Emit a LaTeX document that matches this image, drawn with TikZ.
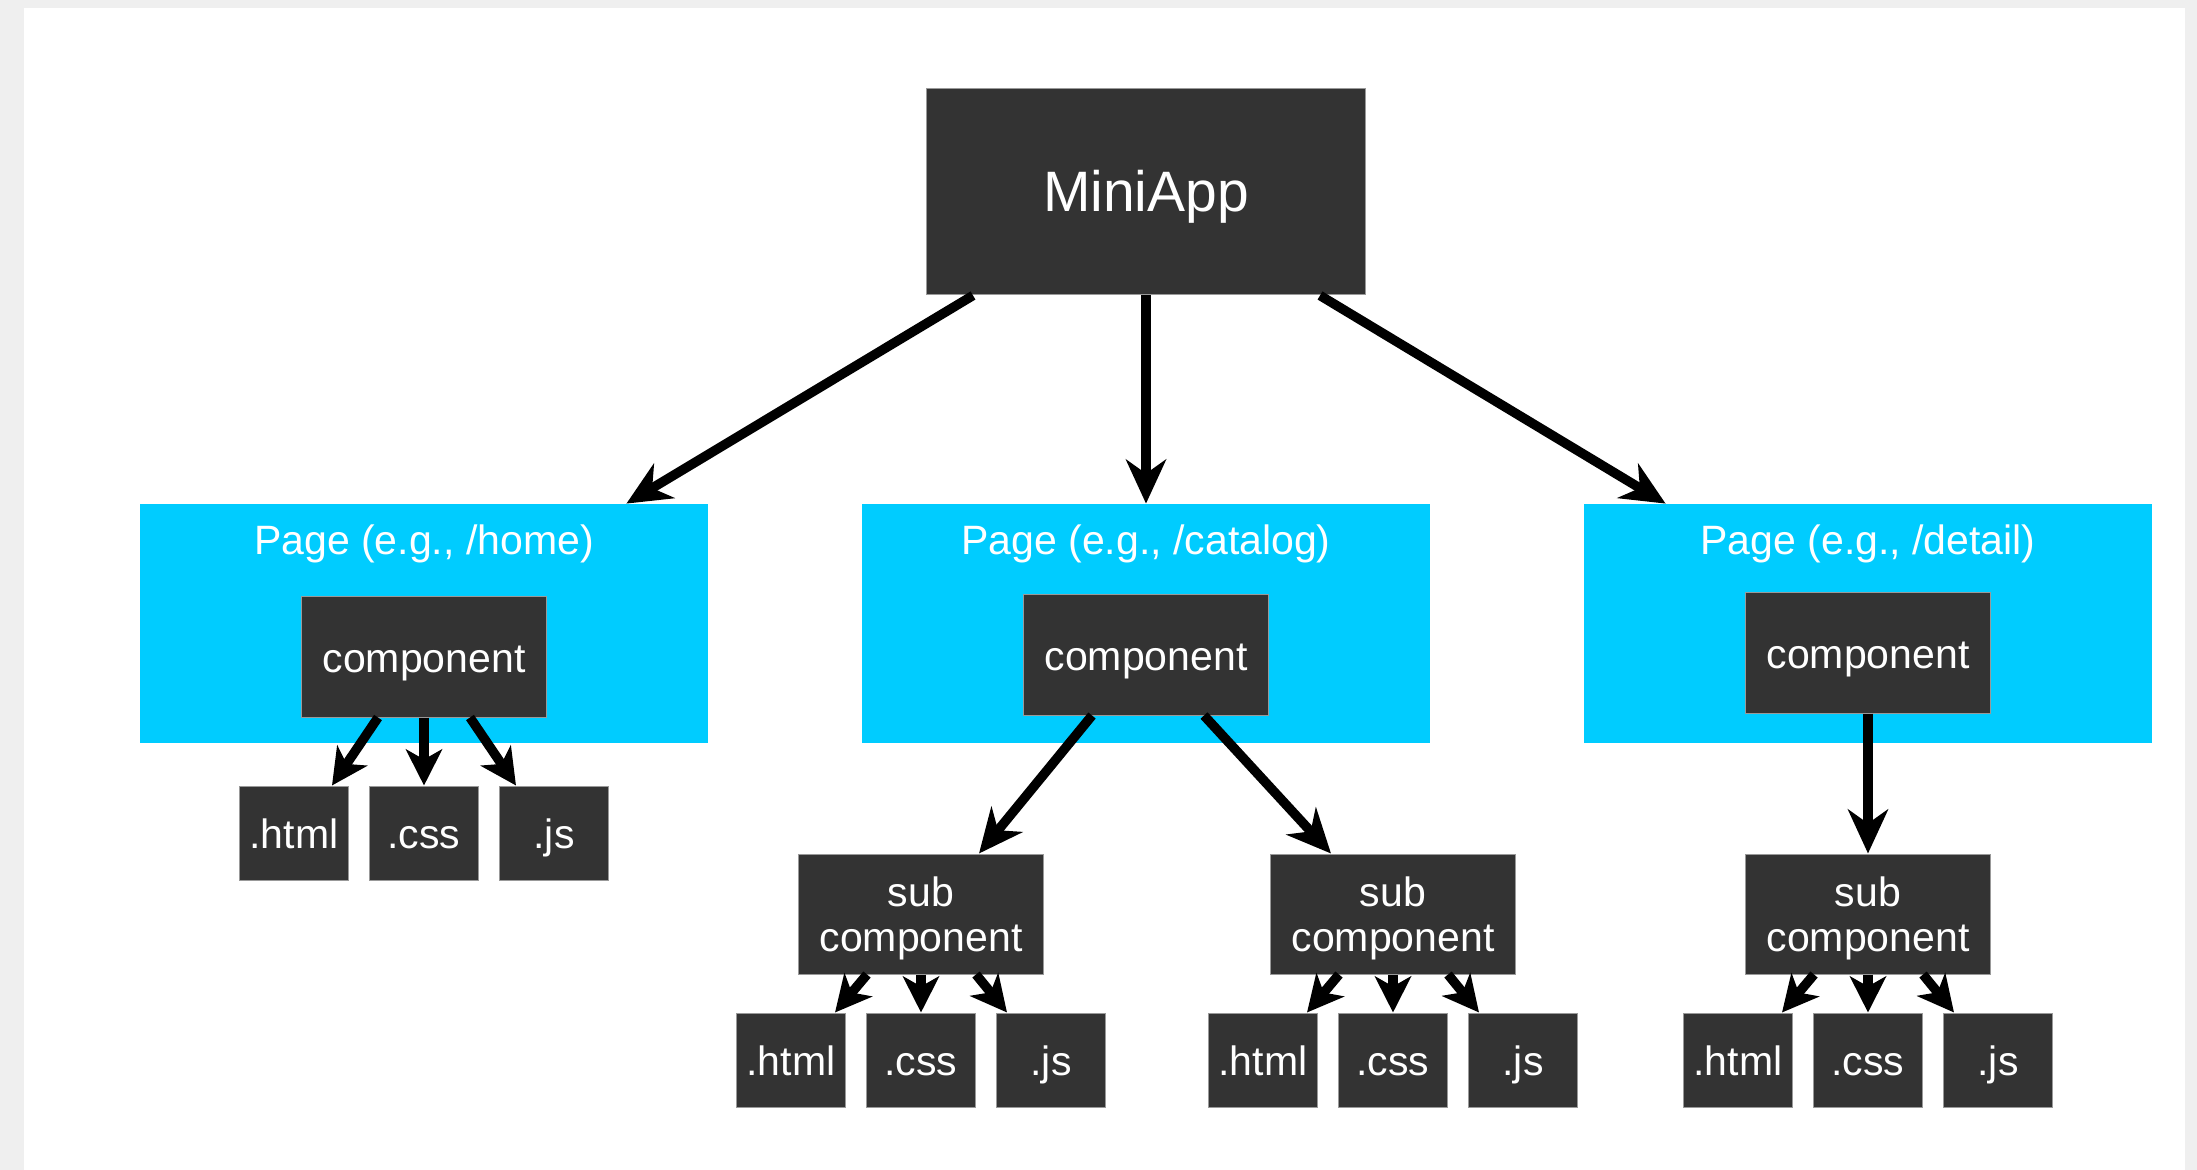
\documentclass[tikz,border=0pt]{standalone}
\usepackage{fontspec}
\setmainfont{Liberation Sans}
\usetikzlibrary{arrows.meta,calc}
\definecolor{bgGray}{HTML}{EFEFEF}
\definecolor{boxDark}{HTML}{333333}
\definecolor{pageBlue}{HTML}{00CCFF}
\newcommand{\subtext}{\raisebox{-8bp}[0pt][0pt]{\begin{tabular}{@{}c@{}}sub\\component\end{tabular}}}
\begin{document}
\begin{tikzpicture}[x=0.5bp,y=-0.5bp,
  darkbox/.style={rectangle, fill=boxDark, draw=black!40, line width=0.5bp, inner sep=0pt,
    text=white, font=\fontsize{20.5bp}{22.5bp}\selectfont, align=center},
  pagebox/.style={rectangle, fill=pageBlue, inner sep=0pt, minimum width=284bp, minimum height=119.5bp},
  pagetitle/.style={text=white, inner sep=0pt, font=\fontsize{20.5bp}{22.5bp}\selectfont},
  leafbox/.style={darkbox, minimum width=54.5bp, minimum height=47bp, text height=17bp, text depth=2bp},
  compbox/.style={darkbox, minimum width=122.5bp, minimum height=60bp, text height=17bp, text depth=2bp},
  subbox/.style={darkbox, minimum width=122.5bp, minimum height=60bp, align=none},
  conn/.style={line width=4.75bp, -{Stealth[length=22bp, width=20bp, inset=7bp]}},
  smallconn/.style={line width=4.75bp, -{Stealth[length=18bp, width=18bp, inset=5bp]}}
]
\useasboundingbox (0,0) rectangle (2197,1170);
\fill[bgGray] (0,0) rectangle (2197,1170);
\fill[white] (24,8) rectangle (2185,1170);

% root
\node[darkbox, minimum width=219.5bp, minimum height=103bp, text height=22bp, text depth=2bp,
  font=\fontsize{28.5bp}{31bp}\selectfont] (mini) at (1146,192) {MiniApp};

% pages
\node[pagebox] (pageL) at (424,623.5) {};
\node[pagebox] (pageM) at (1146,623.5) {};
\node[pagebox] (pageR) at (1868,623.5) {};
\node[pagetitle] (titleL) at (424,544) {Page (e.g., /home)};
\node[pagetitle] (titleM) at (1146,544) {Page (e.g., /catalog)};
\node[pagetitle] (titleR) at (1868,544) {Page (e.g., /detail)};

% components
\node[compbox] (compL) at (424,657) {component};
\node[compbox] (compM) at (1146,655) {component};
\node[compbox] (compR) at (1868,653) {component};

% leaves of home page
\node[leafbox] (htmlL) at (294,833) {.html};
\node[leafbox] (cssL) at (424,833) {.css};
\node[leafbox] (jsL) at (554,833) {.js};

% sub components and their leaves
\foreach \n/\x in {A/921, B/1393, C/1868} {
  \node[subbox] (sub\n) at (\x,914) {\subtext};
  \node[leafbox] (html\n) at (\x-130,1060) {.html};
  \node[leafbox] (css\n) at (\x,1060) {.css};
  \node[leafbox] (js\n) at (\x+130,1060) {.js};
}

% connectors from root
\draw[conn] ($(mini.south west)+(47,0)$) -- ($(pageL.north east)+(-82,0)$);
\draw[conn] (mini.south) -- (pageM.north);
\draw[conn] ($(mini.south east)+(-46,0)$) -- ($(pageR.north west)+(82,0)$);

% home page component to leaves
\draw[smallconn] ($(compL.south)+(-46,0)$) -- ($(htmlL.north east)+(-17,0)$);
\draw[smallconn] (compL.south) -- (cssL.north);
\draw[smallconn] ($(compL.south)+(46,0)$) -- ($(jsL.north west)+(17,0)$);

% catalog component to subs
\draw[conn] ($(compM.south)+(-54,0)$) -- ($(subA.north east)+(-65,0)$);
\draw[conn] ($(compM.south)+(58,0)$) -- ($(subB.north west)+(61,0)$);

% detail component to sub
\draw[conn] (compR.south) -- (subC.north);

% subs to leaves
\foreach \n in {A,B,C} {
  \draw[smallconn] ($(sub\n.south)+(-54,0)$) -- ($(html\n.north east)+(-11,0)$);
  \draw[smallconn] (sub\n.south) -- (css\n.north);
  \draw[smallconn] ($(sub\n.south)+(55,0)$) -- ($(js\n.north west)+(11,0)$);
}
\end{tikzpicture}
\end{document}
